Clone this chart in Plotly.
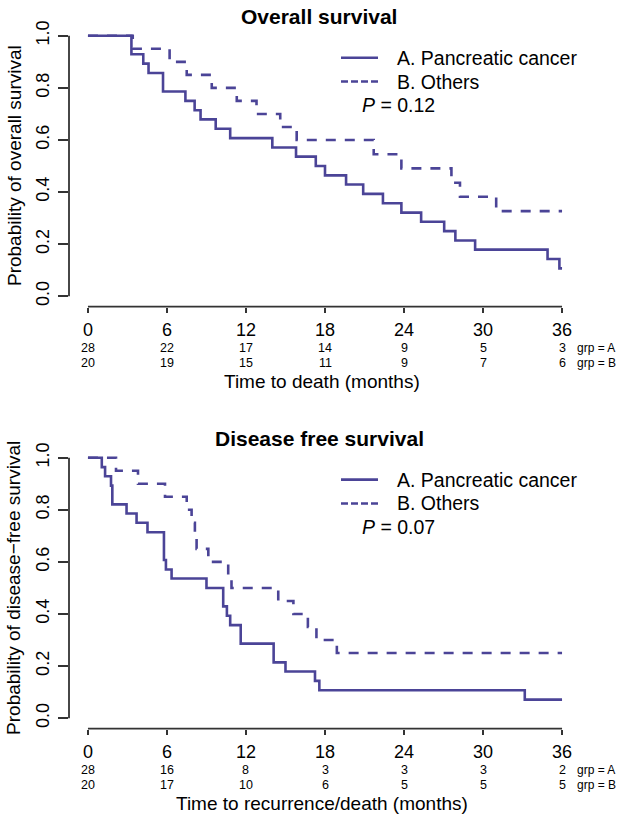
import plotly.graph_objects as go

W, H = 617, 822
LINE_COLOR = "#4B4497"
AXIS_COLOR = "#333333"
FONT = "Liberation Sans, Arial, sans-serif"

# ---------------- data ----------------
x_ticks = [0, 6, 12, 18, 24, 30, 36]
y_ticks = [0.0, 0.2, 0.4, 0.6, 0.8, 1.0]
y_ticktext = ["0.0", "0.2", "0.4", "0.6", "0.8", "1.0"]

# Overall survival
os_a_time = [0, 3.3, 4.2, 4.6, 5.7, 7.4, 8.1, 8.55, 9.7, 10.8, 14.0, 15.8, 17.3, 18.0,
             19.6, 20.9, 22.4, 23.8, 25.3, 27.05, 27.9, 29.4, 34.9, 35.8, 36]
os_a_surv = [1.0, 0.929, 0.893, 0.857, 0.786, 0.750, 0.714, 0.679, 0.643, 0.607, 0.571,
             0.536, 0.500, 0.464, 0.429, 0.393, 0.357, 0.321, 0.286, 0.250, 0.214, 0.179,
             0.143, 0.107, 0.107]
os_b_time = [0, 3.4, 6.2, 7.5, 9.4, 11.3, 12.8, 14.6, 15.85, 21.7, 23.8, 27.6, 28.25, 31.0, 36]
os_b_surv = [1.0, 0.95, 0.90, 0.85, 0.80, 0.75, 0.70, 0.65, 0.60, 0.545, 0.491, 0.436,
             0.382, 0.327, 0.327]
os_risk_a = [28, 22, 17, 14, 9, 5, 3]
os_risk_b = [20, 19, 15, 11, 9, 7, 6]
os_p = "0.12"

# Disease free survival
dfs_a_time = [0, 1.05, 1.3, 1.75, 1.85, 2.93, 3.69, 4.52, 5.77, 5.92, 6.35, 9.0, 10.27,
              10.55, 10.8, 11.6, 14.1, 15.0, 17.24, 17.57, 33.17, 36]
dfs_a_surv = [1.0, 0.964, 0.929, 0.893, 0.821, 0.786, 0.750, 0.714, 0.607, 0.571, 0.536,
              0.500, 0.429, 0.393, 0.357, 0.286, 0.214, 0.179, 0.143, 0.107, 0.071, 0.071]
dfs_b_time = [0, 2.13, 3.8, 5.85, 7.5, 7.87, 8.12, 8.25, 9.14, 10.65, 10.9, 14.45, 15.6,
              16.7, 17.35, 18.9, 36]
dfs_b_surv = [1.0, 0.95, 0.90, 0.85, 0.80, 0.75, 0.70, 0.65, 0.60, 0.55, 0.50, 0.45,
              0.40, 0.35, 0.30, 0.25, 0.25]
dfs_risk_a = [28, 16, 8, 3, 3, 3, 2]
dfs_risk_b = [20, 17, 10, 6, 5, 5, 5]
dfs_p = "0.07"

legend_labels = ["A. Pancreatic cancer", "B. Others"]
group_labels = ["grp = A", "grp = B"]

panels = [
    dict(title="Overall survival", ylabel="Probability of overall survival",
         xlabel="Time to death (months)", a=(os_a_time, os_a_surv), b=(os_b_time, os_b_surv),
         ra=os_risk_a, rb=os_risk_b, p=os_p, off=0),
    dict(title="Disease free survival", ylabel="Probability of disease\u2212free survival",
         xlabel="Time to recurrence/death (months)", a=(dfs_a_time, dfs_a_surv),
         b=(dfs_b_time, dfs_b_surv), ra=dfs_risk_a, rb=dfs_risk_b, p=dfs_p, off=424.5),
]


def px(xp):
    return xp / W


def py(yp):
    return 1 - yp / H


fig = go.Figure()
annotations = []
shapes = []
layout_axes = {}

for i, pn in enumerate(panels):
    off = pn["off"]
    xa = "x" if i == 0 else "x2"
    ya = "y" if i == 0 else "y2"
    xname = "xaxis" if i == 0 else "xaxis2"
    yname = "yaxis" if i == 0 else "yaxis2"

    fig.add_trace(go.Scatter(x=pn["a"][0], y=pn["a"][1], mode="lines",
                             line=dict(shape="hv", color=LINE_COLOR, width=2.6),
                             xaxis=xa, yaxis=ya, showlegend=False, hoverinfo="skip"))
    fig.add_trace(go.Scatter(x=pn["b"][0], y=pn["b"][1], mode="lines",
                             line=dict(shape="hv", color=LINE_COLOR, width=2.6, dash="10px,9px"),
                             xaxis=xa, yaxis=ya, showlegend=False, hoverinfo="skip"))

    layout_axes[xname] = dict(
        domain=[px(69), px(581)], range=[-1.44, 37.44], anchor=ya,
        tickvals=x_ticks, ticks="outside", ticklen=5, tickwidth=1.6, tickcolor=AXIS_COLOR,
        showgrid=False, zeroline=False, showline=False,
        tickfont=dict(family=FONT, size=18, color="black"), ticklabelstandoff=2)
    layout_axes[yname] = dict(
        domain=[py(303.5 + off), py(20.5 + off)], range=[-0.04, 1.04], anchor=xa,
        tickvals=y_ticks, ticktext=y_ticktext, tickangle=-90,
        ticks="outside", ticklen=10, tickwidth=1.6, tickcolor=AXIS_COLOR,
        showgrid=False, zeroline=False, showline=False,
        tickfont=dict(family=FONT, size=18, color="black"), ticklabelstandoff=2)

    # axis lines spanning first to last tick (R style)
    shapes.append(dict(type="line", xref=xa, yref=ya + " domain", x0=x_ticks[0], x1=x_ticks[-1],
                       y0=0, y1=0, line=dict(color=AXIS_COLOR, width=1.8)))
    shapes.append(dict(type="line", xref=xa + " domain", yref=ya, x0=0, x1=0,
                       y0=y_ticks[0], y1=y_ticks[-1], line=dict(color=AXIS_COLOR, width=1.8)))

    # title
    annotations.append(dict(text="<b>%s</b>" % pn["title"], x=px(319), y=py(12 + off),
                            xref="paper", yref="paper", showarrow=False,
                            font=dict(family=FONT, size=21, color="black"),
                            xanchor="center", yanchor="middle"))
    # y label
    annotations.append(dict(text=pn["ylabel"], x=px(14), y=py(162 + off), xref="paper",
                            yref="paper", showarrow=False, textangle=-90,
                            font=dict(family=FONT, size=19, color="black"),
                            xanchor="center", yanchor="middle"))
    # x label
    annotations.append(dict(text=pn["xlabel"], x=px(322), y=py(379 + off), xref="paper",
                            yref="paper", showarrow=False,
                            font=dict(family=FONT, size=19, color="black"),
                            xanchor="center", yanchor="middle"))
    # legend
    for k, (lab, dash) in enumerate(zip(legend_labels, ["solid", "7px,3px"])):
        yy = 53 + 24 * k + off
        shapes.append(dict(type="line", xref="paper", yref="paper", x0=px(341), x1=px(378),
                           y0=py(yy), y1=py(yy),
                           line=dict(color=LINE_COLOR, width=2.6, dash=dash)))
        annotations.append(dict(text=lab, x=px(395), y=py(yy), xref="paper", yref="paper",
                                showarrow=False, font=dict(family=FONT, size=19.5, color="black"),
                                xanchor="left", yanchor="middle"))
    annotations.append(dict(text="<i>P</i> = %s" % pn["p"], x=px(360), y=py(101 + off),
                            xref="paper", yref="paper", showarrow=False,
                            font=dict(family=FONT, size=19.5, color="black"),
                            xanchor="left", yanchor="middle"))
    # risk table
    for row, (vals, glab) in enumerate(zip([pn["ra"], pn["rb"]], group_labels)):
        yy = 345 + 15 * row + off
        for t, v in zip(x_ticks, vals):
            annotations.append(dict(text=str(v), x=t, y=py(yy), xref=xa, yref="paper",
                                    showarrow=False, font=dict(family=FONT, size=12.5, color="black"),
                                    xanchor="center", yanchor="middle", borderpad=0))
        annotations.append(dict(text=glab, x=px(576), y=py(yy), xref="paper", yref="paper",
                                showarrow=False, font=dict(family=FONT, size=12, color="black"),
                                xanchor="left", yanchor="middle", borderpad=0))

fig.update_layout(
    width=W, height=H, margin=dict(l=0, r=0, t=0, b=0),
    paper_bgcolor="white", plot_bgcolor="white",
    annotations=annotations, shapes=shapes, **layout_axes)

fig.write_html("out.html", config={"displayModeBar": False},
               post_script="document.body.style.margin='0';document.body.style.overflow='hidden';")
